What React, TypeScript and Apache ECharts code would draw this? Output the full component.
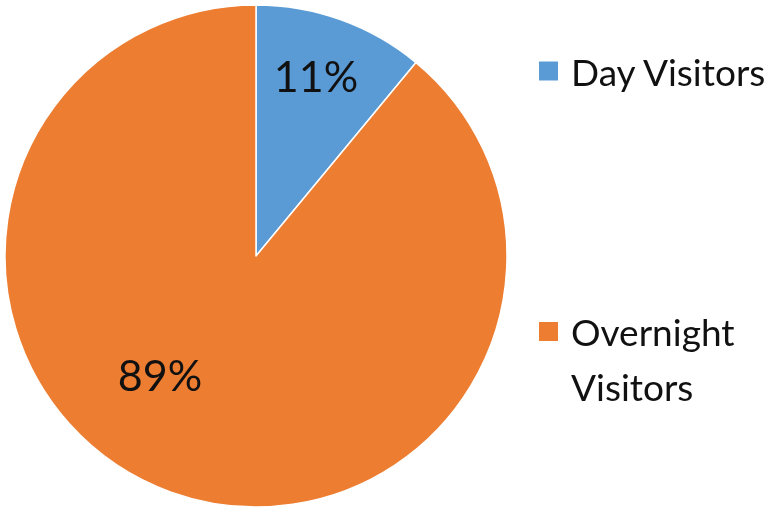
import React, { useEffect, useRef } from "react";
import * as echarts from "echarts";

const categories = ["Day Visitors", "Overnight Visitors"];
const values = [11, 89];
const colors = ["#5B9BD5", "#ED7D31"];

// label anchor points (layout only)
const labelAnchors = [
  [316, 75],
  [160, 374],
];

export default function App() {
  const ref = useRef<HTMLDivElement>(null);
  useEffect(() => {
    if (!ref.current) return;
    const chart = echarts.init(ref.current, undefined, { renderer: "svg" });
    const font = "Lato, 'Liberation Sans', sans-serif";
    chart.setOption({
      animation: false,
      color: colors,
      legend: [
        {
          data: [categories[0]],
          orient: "vertical",
          left: 537,
          top: 49,
          padding: 0,
          itemWidth: 21,
          itemHeight: 21,
          icon: "rect",
          textStyle: {
            fontFamily: font,
            fontSize: 37,
            color: "#111",
            lineHeight: 44,
            padding: [0, 0, 0, 7],
          },
        },
        {
          data: [categories[1]],
          orient: "vertical",
          left: 537,
          top: 249,
          padding: 0,
          itemWidth: 21,
          itemHeight: 21,
          icon: "rect",
          formatter: (name: string) => "\u00a0\n" + name.replace(" ", "\n"),
          textStyle: {
            fontFamily: font,
            fontSize: 37,
            color: "#111",
            lineHeight: 55,
            padding: [0, 0, 0, 7],
          },
        },
      ],
      series: [
        {
          type: "pie",
          center: [256, 256],
          radius: 251,
          startAngle: 90,
          clockwise: true,
          avoidLabelOverlap: false,
          itemStyle: { borderColor: "#fff", borderWidth: 1.5 },
          label: {
            show: true,
            position: "inside",
            formatter: "{c}%",
            fontFamily: font,
            fontSize: 43,
            color: "#111",
          },
          labelLine: { show: false },
          labelLayout: (p: any) => ({
            x: labelAnchors[p.dataIndex][0],
            y: labelAnchors[p.dataIndex][1],
            align: "center",
            verticalAlign: "middle",
          }),
          emphasis: { disabled: true },
          data: categories.map((name, i) => ({ name, value: values[i] })),
        },
      ],
    });
    return () => chart.dispose();
  }, []);
  return (
    <div
      ref={ref}
      style={{ position: "fixed", left: 0, top: 0, width: 778, height: 512 }}
    />
  );
}
